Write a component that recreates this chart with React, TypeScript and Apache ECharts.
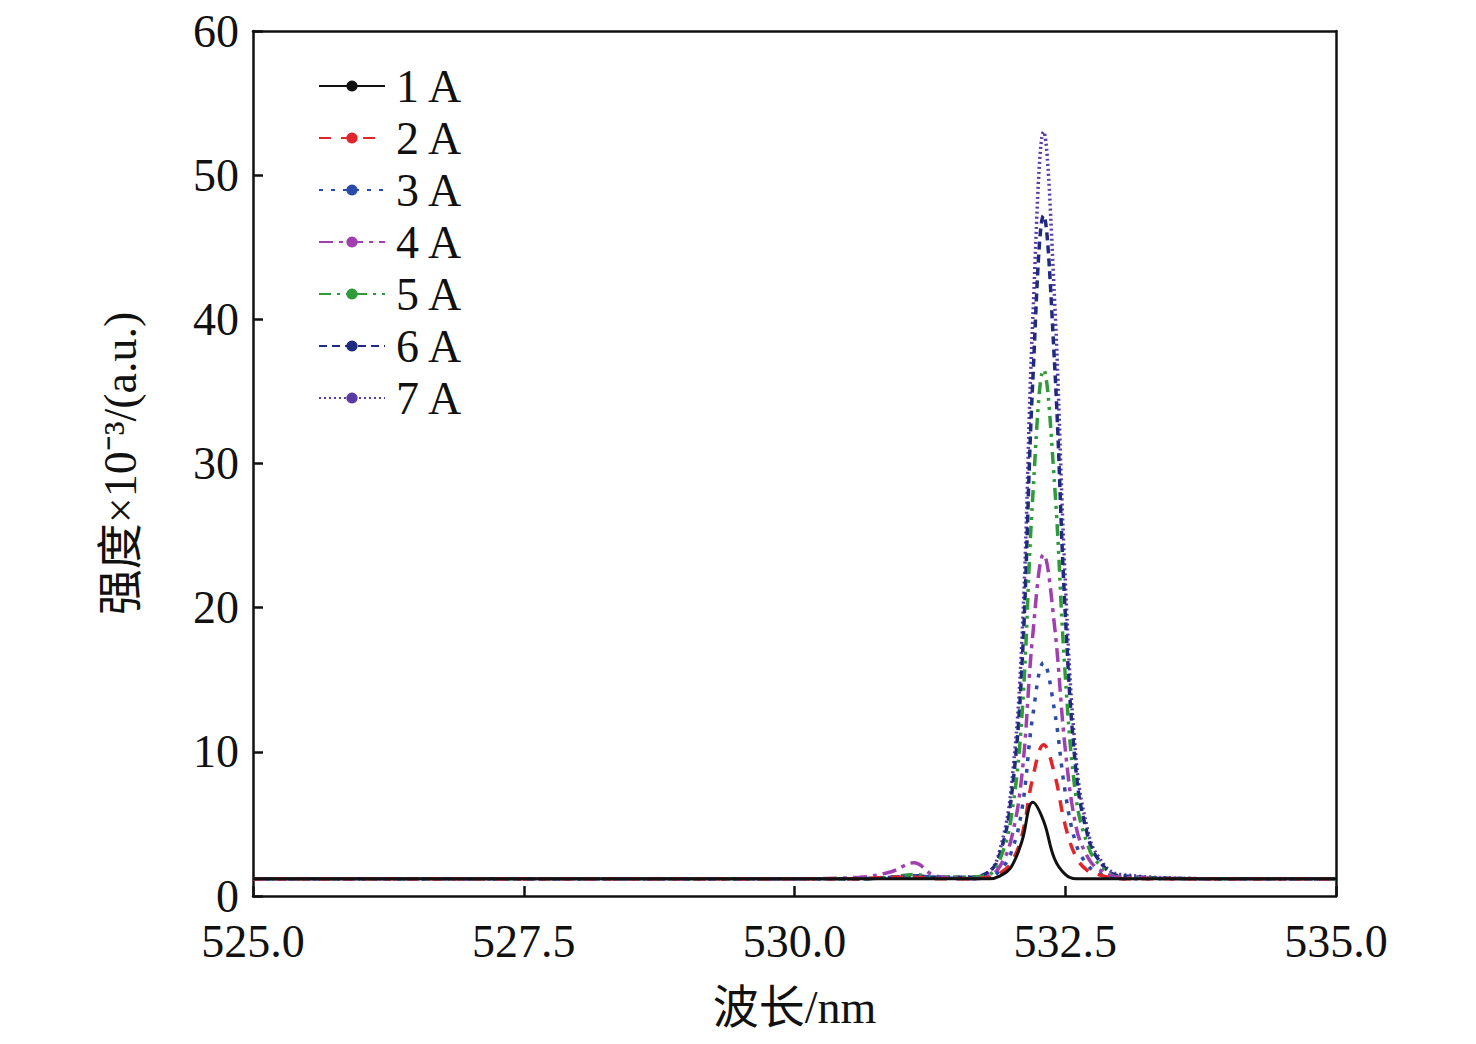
import React, { useEffect, useRef } from 'react';
import * as echarts from 'echarts';

const wavelengths = [525, 526, 527, 528, 529, 530, 530.6, 530.9, 531.1, 531.3, 531.6, 531.8, 531.9, 532.0, 532.1, 532.2, 532.3, 532.4, 532.5, 532.6, 532.7, 532.8, 533.0, 534, 535];

const names = ['1 A', '2 A', '3 A', '4 A', '5 A', '6 A', '7 A'];
const i1 = [1.2, 1.2, 1.2, 1.2, 1.2, 1.2, 1.2, 1.2, 1.2, 1.2, 1.2, 1.2, 1.4, 2.0, 3.8, 6.5, 5.2, 2.6, 1.5, 1.2, 1.2, 1.2, 1.2, 1.2, 1.2];
const i2 = [1.2, 1.2, 1.2, 1.2, 1.2, 1.2, 1.2, 1.3, 1.3, 1.2, 1.2, 1.3, 1.6, 2.3, 4.2, 8.2, 10.5, 8.5, 4.9, 2.7, 1.8, 1.5, 1.2, 1.2, 1.2];
const i3 = [1.2, 1.2, 1.2, 1.2, 1.2, 1.2, 1.2, 1.3, 1.4, 1.3, 1.2, 1.3, 1.8, 3.0, 6.0, 12.5, 16.2, 12.9, 7.2, 3.6, 2.2, 1.6, 1.2, 1.2, 1.2];
const i4 = [1.2, 1.2, 1.2, 1.2, 1.2, 1.2, 1.3, 1.7, 2.3, 1.4, 1.2, 1.4, 2.1, 3.9, 8.4, 18.1, 23.7, 18.8, 10.2, 4.8, 2.8, 1.9, 1.3, 1.2, 1.2];
const i5 = [1.2, 1.2, 1.2, 1.2, 1.2, 1.2, 1.2, 1.3, 1.5, 1.3, 1.3, 1.5, 2.6, 5.4, 12.5, 27.7, 36.5, 28.7, 15.3, 6.8, 3.7, 2.3, 1.3, 1.2, 1.2];
const i6 = [1.2, 1.2, 1.2, 1.2, 1.2, 1.2, 1.2, 1.3, 1.4, 1.3, 1.3, 1.7, 3.0, 6.7, 15.9, 35.7, 47.2, 37.1, 19.6, 8.6, 4.4, 2.6, 1.4, 1.2, 1.2];
const i7 = [1.2, 1.2, 1.2, 1.2, 1.2, 1.2, 1.2, 1.3, 1.4, 1.3, 1.3, 1.7, 3.3, 7.4, 17.8, 40.0, 53.0, 41.6, 21.9, 9.5, 4.8, 2.8, 1.5, 1.2, 1.2];
const intensities = [i1, i2, i3, i4, i5, i6, i7];

const colors = ['#111111', '#e0262b', '#2b4ba8', '#a040b0', '#2e9a3a', '#1f2a80', '#5a3aa8'];
const dashes: any[] = ['solid', [12, 10], [4, 8], [14, 6, 4, 6], [12, 6, 3, 6, 3, 6], [8, 5], [2, 3]];

const font = '"Liberation Serif", "Noto Sans CJK SC", serif';

const App: React.FC = () => {
    const chartRef = useRef<HTMLDivElement>(null);

    useEffect(() => {
        if (!chartRef.current) return;
        const chart = echarts.init(chartRef.current, null, { renderer: 'svg' });
        const axisLine = { show: true, onZero: false, lineStyle: { color: '#111', width: 2.5 } };
        chart.setOption({
            animation: false,
            backgroundColor: '#fff',
            grid: { left: 245, right: 132, top: 23, bottom: 140 },
            legend: {
                left: 305, top: 50, orient: 'vertical', itemWidth: 66, itemHeight: 14, itemGap: 6,
                textStyle: { fontFamily: font, fontSize: 46, color: '#111', padding: [0, 0, 0, 6] },
                data: names,
            },
            xAxis: [
                {
                    type: 'value', min: 525, max: 535, interval: 2.5,
                    name: '波长/nm', nameLocation: 'middle', nameGap: 88,
                    nameTextStyle: { fontFamily: font, fontSize: 46, color: '#111' },
                    axisLine, axisTick: { inside: true, length: 10, lineStyle: { width: 2.5, color: '#111' } },
                    axisLabel: { fontFamily: font, fontSize: 46, color: '#111', margin: 22, formatter: (v: number) => v.toFixed(1) },
                    splitLine: { show: false },
                },
                { type: 'value', min: 525, max: 535, position: 'top', axisLine, axisTick: { show: false }, axisLabel: { show: false }, splitLine: { show: false } },
            ],
            yAxis: [
                {
                    type: 'value', min: 0, max: 60, interval: 10,
                    name: '强度×10⁻³/(a.u.)', nameLocation: 'middle', nameGap: 110, nameRotate: 90,
                    nameTextStyle: { fontFamily: font, fontSize: 46, color: '#111' },
                    axisLine, axisTick: { inside: true, length: 10, lineStyle: { width: 2.5, color: '#111' } },
                    axisLabel: { fontFamily: font, fontSize: 46, color: '#111', margin: 14 },
                    splitLine: { show: false },
                },
                { type: 'value', min: 0, max: 60, position: 'right', axisLine, axisTick: { show: false }, axisLabel: { show: false }, splitLine: { show: false } },
            ],
            series: names.map((n, k) => ({
                name: n, type: 'line', smooth: 0.4, showSymbol: false, symbol: 'none',
                data: wavelengths.map((w, j) => [w, intensities[k][j]]),
                lineStyle: { color: colors[k], width: k === 0 ? 3 : 3.5, type: dashes[k] },
                itemStyle: { color: colors[k] },
                z: 10 - k,
            })),
        });
        return () => chart.dispose();
    }, []);

    return <div ref={chartRef} style={{ width: 1460, height: 1028 }} />;
};

export default App;
